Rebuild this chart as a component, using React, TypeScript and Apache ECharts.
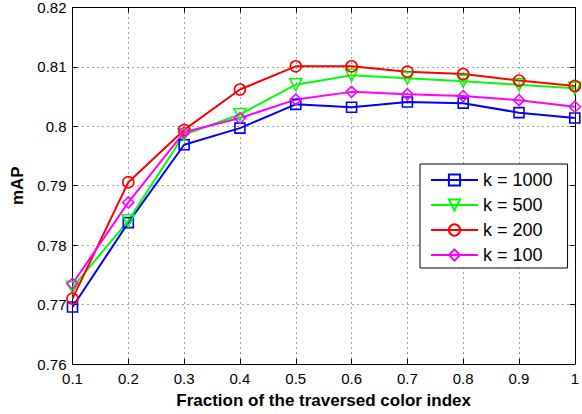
import React, { useEffect, useRef } from "react";
import * as echarts from "echarts";

const xValues = [0.1, 0.2, 0.3, 0.4, 0.5, 0.6, 0.7, 0.8, 0.9, 1.0];
const k1000 = [0.7696, 0.7838, 0.7969, 0.7997, 0.8037, 0.8032, 0.8041, 0.8039, 0.8023, 0.8014];
const k500 = [0.7729, 0.7841, 0.7986, 0.8020, 0.8070, 0.8086, 0.8081, 0.8076, 0.8070, 0.8064];
const k200 = [0.7710, 0.7906, 0.7994, 0.8062, 0.8101, 0.8101, 0.8092, 0.8088, 0.8077, 0.8068];
const k100 = [0.7735, 0.7872, 0.7990, 0.8014, 0.8045, 0.8058, 0.8054, 0.8051, 0.8044, 0.8033];
const seriesNames = ["k = 1000", "k = 500", "k = 200", "k = 100"];

const fmt = (v: number) => String(parseFloat(v.toFixed(3)));

export default function App() {
  const ref = useRef<HTMLDivElement>(null);
  useEffect(() => {
    if (!ref.current) return;
    const chart = echarts.init(ref.current, null, { renderer: "svg" });
    const font = "Liberation Sans, Arial, sans-serif";
    const mk = (name: string, data: number[], color: string, symbol: string, size: number, rotate = 0) => ({
      name,
      type: "line",
      data: xValues.map((x, i) => [x, data[i]]),
      symbol,
      symbolSize: size,
      symbolRotate: rotate,
      showSymbol: true,
      lineStyle: { color, width: 2 },
      itemStyle: { color: "rgba(255,255,255,0)", borderColor: color, borderWidth: 1.6 },
      emphasis: { disabled: true },
      z: 3,
    });
    const splitStyle = { show: true, lineStyle: { color: "#444", width: 1, type: [1, 4] } };
    chart.setOption({
      animation: false,
      backgroundColor: "#fff",
      grid: { left: 72.5, right: 4.5, top: 7, bottom: 48, show: false },
      legend: {
        orient: "vertical",
        left: 420,
        top: 164,
        itemWidth: 47,
        itemHeight: 14,
        itemGap: 7,
        padding: [7, 15, 4, 10],
        borderColor: "#000",
        borderWidth: 1,
        backgroundColor: "#fff",
        textStyle: { fontFamily: font, fontSize: 18, color: "#000" },
        data: seriesNames,
      },
      xAxis: [
        {
          type: "value",
          min: 0.1,
          max: 1,
          interval: 0.1,
          name: "Fraction of the traversed color index",
          nameLocation: "middle",
          nameGap: 28,
          nameTextStyle: { fontFamily: font, fontSize: 17, fontWeight: "bold", color: "#000" },
          axisLine: { show: true, lineStyle: { color: "#000", width: 1 } },
          axisTick: { show: true, inside: true, length: 5, lineStyle: { color: "#000" } },
          axisLabel: { fontFamily: font, fontSize: 15, color: "#000", margin: 7, formatter: fmt },
          splitLine: splitStyle,
        },
        {
          type: "value",
          position: "top",
          min: 0.1,
          max: 1,
          interval: 0.1,
          axisLine: { show: true, lineStyle: { color: "#000", width: 1 } },
          axisTick: { show: true, inside: true, length: 5, lineStyle: { color: "#000" } },
          axisLabel: { show: false },
          splitLine: { show: false },
        },
      ],
      yAxis: [
        {
          type: "value",
          min: 0.76,
          max: 0.82,
          interval: 0.01,
          name: "mAP",
          nameLocation: "middle",
          nameGap: 43,
          nameTextStyle: { fontFamily: font, fontSize: 17, fontWeight: "bold", color: "#000" },
          axisLine: { show: true, lineStyle: { color: "#000", width: 1 } },
          axisTick: { show: true, inside: true, length: 5, lineStyle: { color: "#000" } },
          axisLabel: { fontFamily: font, fontSize: 15, color: "#000", margin: 6, formatter: fmt },
          splitLine: splitStyle,
        },
        {
          type: "value",
          position: "right",
          min: 0.76,
          max: 0.82,
          interval: 0.01,
          axisLine: { show: true, lineStyle: { color: "#000", width: 1 } },
          axisTick: { show: true, inside: true, length: 5, lineStyle: { color: "#000" } },
          axisLabel: { show: false },
          splitLine: { show: false },
        },
      ],
      series: [
        mk(seriesNames[0], k1000, "#0000ff", "rect", 10),
        mk(seriesNames[1], k500, "#00ff00", "triangle", 12, 180),
        mk(seriesNames[2], k200, "#ff0000", "circle", 11),
        mk(seriesNames[3], k100, "#ff00ff", "diamond", 11),
      ],
    });
    return () => chart.dispose();
  }, []);
  return <div ref={ref} style={{ width: 582, height: 414, position: "absolute", left: 0, top: 0 }} />;
}
